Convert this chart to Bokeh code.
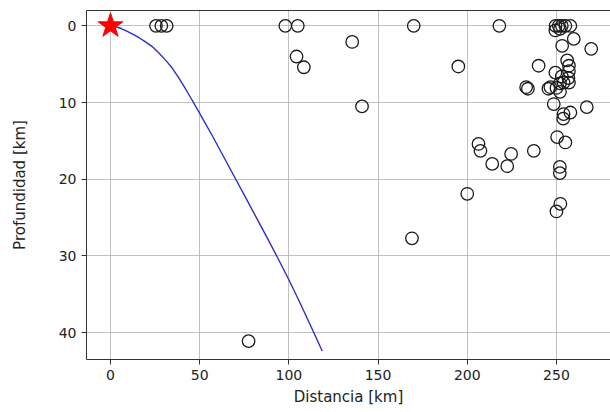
from bokeh.plotting import figure
from bokeh.models import Range1d, FixedTicker, LinearAxis
from bokeh.embed import file_html
from bokeh.resources import INLINE

# Event locations: epicentral distance [km] and depth [km]
dist_km = [25.5, 28.5, 31.5, 98, 105, 170, 218,
           249.5, 251.3, 253, 255, 257.8, 249.4, 252, 259.7, 253.2, 269.5,
           135.5, 104.3, 108.4, 141, 195,
           240, 256, 257, 249.4, 257, 253, 256.7, 254, 252,
           246.6, 233, 234, 245.5, 250, 257, 252,
           248.5, 254, 257.8, 267, 253.8,
           250.4, 255,
           206.3, 207.4, 214, 224.6, 222.4, 237.3, 200, 169,
           251.9, 251.9, 252.2, 250, 77.4]
depth_km = [0, 0, 0, 0, 0, 0, 0,
            0, 0, 0, 0, 0, 0.6, 0.4, 1.7, 2.6, 3.0,
            2.1, 4.0, 5.4, 10.5, 5.3,
            5.2, 4.5, 5.2, 6.1, 5.9, 6.6, 6.8, 7.4, 7.5,
            8.0, 8.0, 8.2, 8.2, 8.1, 7.4, 8.6,
            10.2, 11.5, 11.3, 10.6, 12.1,
            14.5, 15.2,
            15.4, 16.3, 18.0, 16.7, 18.3, 16.3, 21.9, 27.7,
            18.4, 19.2, 23.2, 24.2, 41.1]

# Ray path from the source
ray_dist = [0, 3, 6, 9.4, 13, 16, 19, 23.4, 27, 31, 34.6, 38, 42, 45.8, 50,
            57, 63.5, 70, 76, 82, 88, 93.4, 100, 106, 112, 118.7]
ray_depth = [0, 0.12, 0.35, 0.72, 1.15, 1.55, 2.0, 2.7, 3.5, 4.5, 5.5, 6.7, 8.2, 9.7, 11.4,
             14.3, 17.1, 19.9, 22.5, 25.1, 27.7, 30.1, 33.1, 36.0, 39.0, 42.4]

# Source
src_x = [0]
src_y = [0]

x_ticks = [0, 50, 100, 150, 200, 250]
y_ticks = [0, 10, 20, 30, 40]

FONT = "DejaVu Sans"
TXT = "#222222"
AX = "#333333"

p = figure(width=610, height=412, output_backend="svg", toolbar_location=None,
           x_range=Range1d(-13.45, 280.3), y_range=Range1d(43.5, -2.0),
           min_border_left=86, min_border_right=0, min_border_top=10,
           min_border_bottom=53,
           x_axis_label="Distancia [km]", y_axis_label="Profundidad [km]")
p.background_fill_color = "white"
p.border_fill_color = "white"
p.outline_line_color = None

p.xaxis[0].ticker = FixedTicker(ticks=x_ticks)
p.yaxis[0].ticker = FixedTicker(ticks=y_ticks)
p.xgrid[0].ticker = FixedTicker(ticks=x_ticks)
p.ygrid[0].ticker = FixedTicker(ticks=y_ticks)

for ax in (p.xaxis[0], p.yaxis[0]):
    ax.axis_line_color = AX
    ax.axis_line_width = 1
    ax.major_tick_line_color = AX
    ax.major_tick_out = 5
    ax.major_tick_in = 0
    ax.minor_tick_line_color = None
    ax.major_label_text_font = FONT
    ax.major_label_text_font_size = "14px"
    ax.major_label_text_color = TXT
    ax.major_label_standoff = 5
    ax.axis_label_text_font = FONT
    ax.axis_label_text_font_size = "15px"
    ax.axis_label_text_font_style = "normal"
    ax.axis_label_text_color = TXT
p.xaxis[0].axis_label_standoff = 5
p.yaxis[0].axis_label_standoff = 27

top = LinearAxis(ticker=FixedTicker(ticks=[]), axis_line_color=AX,
                 major_tick_line_color=None, minor_tick_line_color=None,
                 major_tick_out=0, major_label_standoff=0,
                 major_label_text_font_size="0px")
p.add_layout(top, "above")

for g in (p.xgrid[0], p.ygrid[0]):
    g.grid_line_color = "#b0b0b0"
    g.grid_line_width = 0.8

p.scatter(dist_km, depth_km, marker="circle", size=12.5, fill_color=None,
          line_color="#1a1a1a", line_width=1.3)
p.line(ray_dist, ray_depth, line_color="#2e2ec8", line_width=1.4)
p.scatter(src_x, src_y, marker="star", size=26, fill_color="red", line_color="red")

open("out.html", "w").write(file_html(p, INLINE))
